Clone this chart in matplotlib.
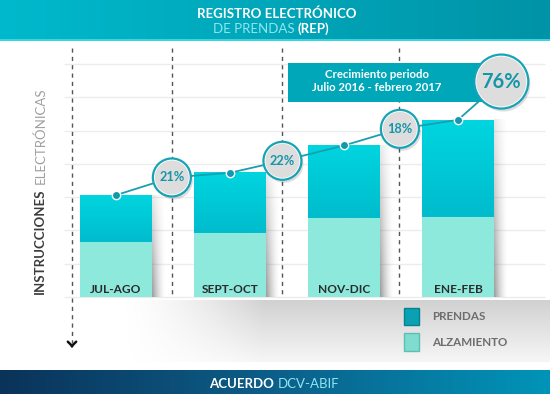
import numpy as np
import matplotlib.pyplot as plt
from matplotlib.colors import LinearSegmentedColormap
from matplotlib.patches import Rectangle, Patch
from matplotlib.transforms import offset_copy

plt.rcParams['font.family'] = ['Lato', 'DejaVu Sans']

# data (1 unit = one grid step)
periods = ['JUL-AGO', 'SEPT-OCT', 'NOV-DIC', 'ENE-FEB']
alzamiento = [1.66, 1.91, 2.36, 2.41]
prendas = [1.40, 1.82, 2.19, 2.91]
growth_labels = ['21%', '22%', '18%']
growth_x = [0.49, 1.46, 2.49]
growth_y = [3.59, 4.09, 5.05]
total_label = '76%'
total_x, total_y = 3.38, 6.47
sep_x = [-0.386, 0.491, 1.456, 2.482]
box_lines = ['Crecimiento periodo', 'Julio 2016 - febrero 2017']
legend_labels = ['PRENDAS', 'ALZAMIENTO']

TEAL = '#17a3b5'
W, H = 550, 394

fig = plt.figure(figsize=(5.5, 3.94), dpi=100)
fig.patch.set_facecolor('white')

# header band
hax = fig.add_axes([0, 1 - 39 / H, 1, 39 / H])
hax.imshow(np.linspace(0, 1, 200).reshape(1, -1), aspect='auto',
           cmap=LinearSegmentedColormap.from_list('h', ['#00b9cc', '#0093a7']))
hax.axis('off')
fig.add_artist(Rectangle((0, 1 - 41 / H), 1, 2 / H, transform=fig.transFigure,
                         color='#3ad4e4', lw=0))

# footer band
fax = fig.add_axes([0, 0, 1, 24 / H])
fax.imshow(np.linspace(0, 1, 200).reshape(1, -1), aspect='auto',
           cmap=LinearSegmentedColormap.from_list('f', ['#0a3359', '#0c5f8a', '#0194b8']))
fax.axis('off')

# main chart
ax = fig.add_axes([0, 24 / H, 1, 329 / H])
ax.set_xlim(-1.0175, 3.807)
ax.set_ylim(-2.192, 7.688)
ax.axis('off')

ax.hlines(range(0, 8), -0.456, 3.763, color='#ececec', lw=1, zorder=1)

# floor shadow
fx = np.clip(np.linspace(0, 3, 300), 0, 1) ** 1.5
fy = np.linspace(0.12, 0.6, 60)
floor = np.zeros((60, 300, 4))
floor[..., :3] = 0.7
floor[..., 3] = fy[:, None] * fx[None, :]
ax.imshow(floor, origin='lower', aspect='auto', extent=(0.035, 3.807, -1.95, -0.09),
          zorder=1, interpolation='bilinear')

# dashed separators
for i, sx in enumerate(sep_x):
    y_end = -1.38 if i == 0 else 0
    ax.plot([sx, sx], [7.48, y_end], ls=(0, (3, 3)), color='#555555', lw=1, zorder=2)
ax.annotate('', xy=(sep_x[0], -1.52), xytext=(sep_x[0], -1.46),
            arrowprops=dict(arrowstyle='->,head_length=0.3,head_width=0.3',
                            color='#111111', lw=1.8), zorder=2)

# bars
x = np.arange(len(periods))
w = 0.63
totals = [a + p for a, p in zip(alzamiento, prendas)]
ax.bar(x, alzamiento, w, color='#8ee9dd', zorder=3)
pb = ax.bar(x, prendas, w, bottom=alzamiento, color='#00cbd8', zorder=3)
bar_cm = LinearSegmentedColormap.from_list('b', ['#00bccd', '#00d5df'])
grad = np.linspace(0, 1, 60).reshape(-1, 1)
for r in pb:
    ax.imshow(grad, cmap=bar_cm, origin='lower', aspect='auto', zorder=3.1,
              extent=(r.get_x(), r.get_x() + r.get_width(), r.get_y(), r.get_y() + r.get_height()))

# right-hand bar shadows
for xi, t in zip(x, totals):
    sh = np.zeros((60, 30, 4))
    sh[..., :3] = 0.4
    sh[..., 3] = np.linspace(0.65, 0.15, 60)[:, None] * (np.linspace(1, 0, 30) ** 1.6)[None, :]
    ax.imshow(sh, origin='lower', aspect='auto', zorder=2.5, interpolation='bilinear',
              extent=(xi + w / 2, xi + w / 2 + 0.12, 0, t))

for xi, lab in zip(x, periods):
    ax.text(xi, 0.24, lab, ha='center', va='center', fontsize=8.6, fontweight='bold',
            color='#2b2b2b', zorder=5)

# growth box
box = Rectangle((1.51, 5.86), 1.71, 1.17, color='#00a7b9', lw=0, zorder=4)
ax.add_patch(box)
ax.text(2.29, 6.67, box_lines[0], ha='center', va='center', color='white',
        fontsize=8.2, fontweight='bold', zorder=5)
ax.text(2.29, 6.28, box_lines[1], ha='center', va='center', color='white',
        fontsize=8.2, fontweight='bold', zorder=5)

# growth line
path_x, path_y = [], []
for i in range(len(periods)):
    path_x.append(x[i])
    path_y.append(totals[i])
    if i < len(growth_x):
        path_x.append(growth_x[i])
        path_y.append(growth_y[i])
path_x.append(total_x)
path_y.append(total_y)
ax.plot(path_x, path_y, color='#1a9fb0', lw=1.3, zorder=6)
ax.scatter(x, totals, s=36, color='#1299ab', edgecolor='white', linewidth=1, zorder=7)

# circles
cx = growth_x + [total_x]
cy = growth_y + [total_y]
outer = [748] * len(growth_x) + [1512]
inner = [600] * len(growth_x) + [1296]
shadow_tr = offset_copy(ax.transData, fig=fig, x=2, y=-3, units='dots')
ax.scatter(cx, cy, s=outer, color='#000000', alpha=0.13, lw=0, transform=shadow_tr, zorder=7)
ax.scatter(cx, cy, s=outer, facecolor='white', edgecolor=TEAL, linewidth=1.6, zorder=8)
ax.scatter(cx, cy, s=inner, facecolor='#dddddd', lw=0, zorder=9)
for gx, gy, gl in zip(growth_x, growth_y, growth_labels):
    ax.text(gx, gy, gl, ha='center', va='center', fontsize=9.2, fontweight='bold',
            color='#1596a8', zorder=10)
ax.text(total_x, total_y, total_label, ha='center', va='center', fontsize=14.5,
        fontweight='bold', color='#1596a8', zorder=10)

# legend
handles = [Patch(facecolor='#0aa1b3', edgecolor='#07808f'),
           Patch(facecolor='#7fdccf', edgecolor='#5cbfb3')]
ax.legend(handles, legend_labels, loc='upper left', bbox_to_anchor=(404 / W, 1 - 308 / H),
          bbox_transform=fig.transFigure, frameon=False, prop={'size': 8.4, 'weight': 'bold'},
          labelcolor='#6e6e6e', handlelength=1.26, handleheight=1.9, handletextpad=1.17,
          labelspacing=0.7, borderpad=0, borderaxespad=0)

# axis title: bold word, then the light one just above it
t1 = fig.text(40 / W, (H - 294) / H, 'INSTRUCCIONES', rotation=90, ha='center', va='bottom',
              color='#3d3d3d', fontsize=9.5, fontweight='bold')
fig.canvas.draw()
top = t1.get_window_extent().y1
fig.text(40 / W, (top + 4) / H, 'ELECTRÓNICAS', rotation=90, ha='center', va='bottom',
         color='#a0a0a0', fontsize=9.5, fontweight='normal')

# header and footer texts
fig.text(277 / W, 1 - 17.5 / H, 'REGISTRO ELECTRÓNICO', ha='center', va='baseline',
         color='white', fontsize=9.5, fontweight='bold')
fig.text(295 / W, 1 - 33 / H, 'DE PRENDAS', ha='right', va='baseline',
         color='#8fe6f0', fontsize=9.5, fontweight='normal')
fig.text(297.5 / W, 1 - 33 / H, '(REP)', ha='left', va='baseline',
         color='white', fontsize=9.5, fontweight='bold')
fig.text(274 / W, (H - 388.5) / H, 'ACUERDO', ha='right', va='baseline',
         color='white', fontsize=9.5, fontweight='bold')
fig.text(278 / W, (H - 388.5) / H, 'DCV-ABIF', ha='left', va='baseline',
         color='#8fe6f0', fontsize=9.5, fontweight='normal')

plt.savefig('out.png', dpi=100)
